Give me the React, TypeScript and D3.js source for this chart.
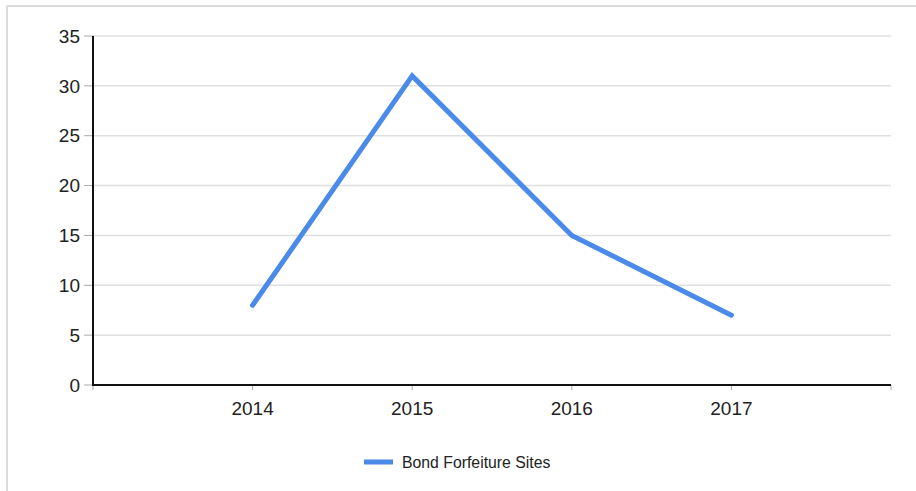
import React, { useEffect, useRef } from "react";
import * as d3 from "d3";

const years = [2014, 2015, 2016, 2017];
const values = [8, 31, 15, 7];
const yTicks = [0, 5, 10, 15, 20, 25, 30, 35];
const seriesName = "Bond Forfeiture Sites";

const W = 916;
const H = 491;

export default function App() {
  const ref = useRef<SVGSVGElement>(null);
  useEffect(() => {
    const svg = d3.select(ref.current);
    svg.selectAll("*").remove();
    const left = 93, right = 891, top = 36, bottom = 385;
    const x = d3.scaleLinear().domain([2013, 2018]).range([left, right]);
    const y = d3.scaleLinear().domain([0, 35]).range([bottom, top]);
    const font = "Arial, 'Liberation Sans', sans-serif";

    // frame
    svg.append("line").attr("x1", 7).attr("x2", W).attr("y1", 6).attr("y2", 6)
      .attr("stroke", "#dcdcdc").attr("stroke-width", 2);
    svg.append("line").attr("x1", 7).attr("x2", 7).attr("y1", 6).attr("y2", H)
      .attr("stroke", "#dcdcdc").attr("stroke-width", 2);

    // grid + y ticks
    const g = svg.append("g");
    yTicks.forEach((t) => {
      if (t > 0) {
        g.append("line").attr("x1", left).attr("x2", right)
          .attr("y1", y(t)).attr("y2", y(t))
          .attr("stroke", "#e0e0e0").attr("stroke-width", 1.5);
      }
      g.append("line").attr("x1", 84).attr("x2", left)
        .attr("y1", y(t)).attr("y2", y(t))
        .attr("stroke", "#aaaaaa").attr("stroke-width", 1);
      g.append("text").attr("x", 80).attr("y", y(t)).attr("dy", "0.35em")
        .attr("text-anchor", "end").attr("font-family", font)
        .attr("font-size", 19).attr("fill", "#222").text(String(t));
    });

    // x ticks
    const xt = [2013, ...years, 2018];
    xt.forEach((t) => {
      g.append("line").attr("x1", x(t)).attr("x2", x(t))
        .attr("y1", bottom).attr("y2", bottom + 5)
        .attr("stroke", "#aaaaaa").attr("stroke-width", 1);
    });
    years.forEach((t) => {
      g.append("text").attr("x", x(t)).attr("y", 415)
        .attr("text-anchor", "middle").attr("font-family", font)
        .attr("font-size", 19).attr("fill", "#222").text(String(t));
    });

    // axes
    g.append("line").attr("x1", left).attr("x2", left).attr("y1", top).attr("y2", bottom + 1)
      .attr("stroke", "#111").attr("stroke-width", 2);
    g.append("line").attr("x1", left).attr("x2", right).attr("y1", bottom).attr("y2", bottom)
      .attr("stroke", "#111").attr("stroke-width", 2);

    // line
    const line = d3.line<number>().x((_, i) => x(years[i])).y((d) => y(d));
    g.append("path").datum(values).attr("d", line).attr("fill", "none")
      .attr("stroke", "#4a8ae8").attr("stroke-width", 5)
      .attr("stroke-linejoin", "miter").attr("stroke-linecap", "round");

    // legend
    g.append("line").attr("x1", 364).attr("x2", 393).attr("y1", 462).attr("y2", 462)
      .attr("stroke", "#4a8ae8").attr("stroke-width", 5);
    g.append("text").attr("x", 402).attr("y", 462).attr("dy", "0.35em")
      .attr("font-family", font).attr("font-size", 15.8).attr("fill", "#222").text(seriesName);
  }, []);
  return (
    <svg ref={ref} width={W} height={H}
      style={{ position: "absolute", left: 0, top: 0, background: "#fff" }} />
  );
}
